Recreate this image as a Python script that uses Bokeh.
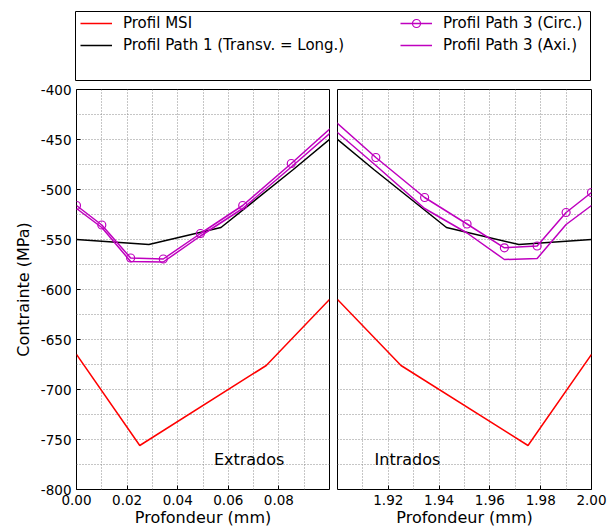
from bokeh.plotting import figure
from bokeh.models import Range1d, FixedTicker, PrintfTickFormatter, Legend, LegendItem, Label
from bokeh.layouts import column, row
from bokeh.embed import file_html
from bokeh.resources import INLINE

# ---------------- data ----------------
legend_labels = ["Profil MSI", "Profil Path 1 (Transv. = Long.)",
                 "Profil Path 3 (Circ.)", "Profil Path 3 (Axi.)"]
panel_names = ["Extrados", "Intrados"]
x_label = "Profondeur (mm)"
y_label = "Contrainte (MPa)"

# Extrados (left panel)
x_msi_e = [0.0, 0.025, 0.075, 0.1]
y_msi_e = [-665, -756, -676, -610]
x_p1_e = [0.0, 0.0286, 0.0571, 0.0857, 0.1143]
y_p1_e = [-550, -555, -538, -480, -420]
x_p3_e = [0.0, 0.01, 0.0214, 0.0343, 0.049, 0.0657, 0.0849, 0.1069]
y_circ_e = [-516, -535.5, -568.5, -569.5, -544, -516, -474, -424]
y_axi_e = [-519, -538, -572, -572.5, -546.5, -519, -477.5, -429]

# Intrados (right panel)
x_msi_i = [1.9, 1.925, 1.975, 2.0]
y_msi_i = [-610, -676, -756, -665]
x_p1_i = [1.8857, 1.9143, 1.9429, 1.9714, 2.0]
y_p1_i = [-420, -480, -538, -555, -550]
x_p3_i = [1.8931, 1.9151, 1.9343, 1.951, 1.9657, 1.9786, 1.99, 2.0]
y_circ_i = [-418.5, -468, -508, -534.5, -558.3, -556.5, -523, -503]
y_axi_i = [-428, -476, -519, -543.5, -570, -569, -535, -516]

# ticks
y_ticks = [-800, -750, -700, -650, -600, -550, -500, -450, -400]
y_grid = [-775, -750, -725, -700, -675, -650, -625, -600, -575, -550, -525,
          -500, -475, -450, -425]
x_ticks_e = [0.0, 0.02, 0.04, 0.06, 0.08]
x_grid_e = [0.01, 0.02, 0.03, 0.04, 0.05, 0.06, 0.07, 0.08, 0.09]
x_ticks_i = [1.92, 1.94, 1.96, 1.98, 2.0]
x_grid_i = [1.91, 1.92, 1.93, 1.94, 1.95, 1.96, 1.97, 1.98, 1.99]

# ---------------- style ----------------
FONT = "DejaVu Sans"
RED = "#ff0000"
BLACK = "#000000"
MAG = "#bf00bf"
LW = 1.5

y_range = Range1d(-800, -400)


def make_panel(xr, width, bl, br, xticks, xgrid, show_y):
    p = figure(width=width, height=448, x_range=xr, y_range=y_range,
               output_backend="svg", toolbar_location=None,
               min_border_left=bl, min_border_right=br,
               min_border_top=8, min_border_bottom=40)
    p.outline_line_color = "black"
    p.outline_line_width = 1
    p.outline_line_alpha = 1
    p.background_fill_color = "white"
    p.border_fill_color = "white"

    p.xaxis.ticker = FixedTicker(ticks=xticks, minor_ticks=[])
    p.xaxis.formatter = PrintfTickFormatter(format="%.2f")
    p.yaxis.ticker = FixedTicker(ticks=y_ticks, minor_ticks=[])
    p.yaxis.formatter = PrintfTickFormatter(format="%d")
    for ax in p.axis:
        ax.axis_line_color = None
        ax.major_tick_in = 4
        ax.major_tick_out = 0
        ax.major_tick_line_color = "black"
        ax.minor_tick_line_color = None
        ax.major_label_text_font = FONT
        ax.major_label_text_font_size = "13.5px"
        ax.major_label_text_color = "black"
        ax.major_label_standoff = 5
        ax.axis_label_text_font = FONT
        ax.axis_label_text_font_size = "16px"
        ax.axis_label_text_font_style = "normal"
        ax.axis_label_text_color = "black"
    p.xaxis.axis_label = x_label
    p.xaxis.axis_label_standoff = 0
    p.xgrid.ticker = FixedTicker(ticks=xgrid)
    p.ygrid.ticker = FixedTicker(ticks=y_grid)
    for g in p.grid:
        g.grid_line_color = "#8c8c8c"
        g.grid_line_dash = "1 2"
        g.grid_line_width = 1
    if show_y:
        p.yaxis.axis_label = y_label
        p.yaxis.axis_label_standoff = 5
    else:
        p.yaxis.visible = False
    return p


left = make_panel(Range1d(0.0, 0.1), 333, 76, 4, x_ticks_e, x_grid_e, True)
right = make_panel(Range1d(1.9, 2.0), 283, 4, 25, x_ticks_i, x_grid_i, False)


def draw(p, xm, ym, x1, y1, x3, yc, ya):
    p.line(xm, ym, line_color=RED, line_width=LW)
    p.line(x1, y1, line_color=BLACK, line_width=LW)
    p.line(x3, yc, line_color=MAG, line_width=LW)
    p.scatter(x3, yc, marker="circle", size=8, line_color=MAG,
              fill_color=None, line_width=1.2)
    p.line(x3, ya, line_color=MAG, line_width=LW)


draw(left, x_msi_e, y_msi_e, x_p1_e, y_p1_e, x_p3_e, y_circ_e, y_axi_e)
draw(right, x_msi_i, y_msi_i, x_p1_i, y_p1_i, x_p3_i, y_circ_i, y_axi_i)

left.add_layout(Label(x=0.0543, y=-770, text=panel_names[0],
                      text_font=FONT, text_font_size="16px",
                      text_color="black", text_baseline="alphabetic"))
right.add_layout(Label(x=1.9146, y=-770, text=panel_names[1],
                       text_font=FONT, text_font_size="16px",
                       text_color="black", text_baseline="alphabetic"))

# ---------------- legend figure ----------------
lf = figure(width=616, height=81, x_range=Range1d(0, 1), y_range=Range1d(0, 1),
            output_backend="svg", toolbar_location=None,
            min_border_left=75, min_border_right=26,
            min_border_top=11, min_border_bottom=1)
lf.axis.visible = False
lf.grid.visible = False
lf.outline_line_color = "black"
lf.outline_line_width = 1
lf.outline_line_alpha = 1

# hidden sample glyphs (drawn outside the visible range) for the legend
dummy_x = [5, 6]
dummy_y = [5, 6]
r_msi = lf.line(dummy_x, dummy_y, line_color=RED, line_width=LW)
r_p1 = lf.line(dummy_x, dummy_y, line_color=BLACK, line_width=LW)
r_circ_l = lf.line(dummy_x, dummy_y, line_color=MAG, line_width=LW)
r_circ_m = lf.scatter(dummy_x, dummy_y, marker="circle", size=8, line_color=MAG,
                      fill_color=None, line_width=1.2)
r_axi = lf.line(dummy_x, dummy_y, line_color=MAG, line_width=LW)


def make_legend(items, loc):
    lg = Legend(items=items, location=loc, orientation="vertical",
                padding=0, margin=0, spacing=2,
                glyph_width=32, glyph_height=20, label_height=20,
                label_standoff=11,
                label_text_font=FONT, label_text_font_size="15px",
                label_text_color="black",
                border_line_color=None, background_fill_alpha=0)
    return lg


lg1 = make_legend([LegendItem(label=legend_labels[0], renderers=[r_msi]),
                   LegendItem(label=legend_labels[1], renderers=[r_p1])], (5, 25))
lg2 = make_legend([LegendItem(label=legend_labels[2], renderers=[r_circ_l, r_circ_m]),
                   LegendItem(label=legend_labels[3], renderers=[r_axi])], (325, 25))
lf.add_layout(lg1)
lf.add_layout(lg2)

layout = column(lf, row(left, right))

open("out.html", "w").write(file_html(layout, INLINE))
